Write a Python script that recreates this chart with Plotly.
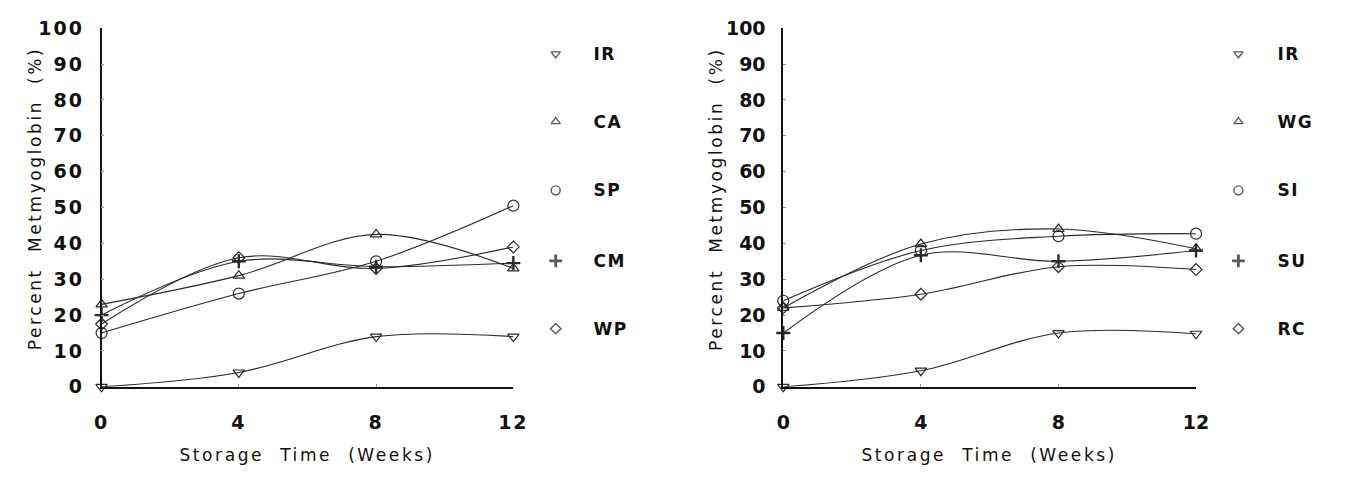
import plotly.graph_objects as go

# Storage time (weeks)
weeks = [0, 4, 8, 12]

# Left panel: percent metmyoglobin by treatment
left_names = ["IR", "CA", "SP", "CM", "WP"]
left_IR = [0, 4, 14, 14]
left_CA = [23, 31, 42.5, 33]
left_SP = [15, 26, 35, 50.5]
left_CM = [20, 35, 33.5, 34.5]
left_WP = [17.5, 36, 33, 39]

# Right panel: percent metmyoglobin by treatment
right_names = ["IR", "WG", "SI", "SU", "RC"]
right_IR = [0, 4.5, 15, 14.8]
right_WG = [22, 39.8, 44, 38.5]
right_SI = [24, 38, 42, 42.7]
right_SU = [15, 36.7, 35, 38]
right_RC = [22, 25.8, 33.5, 32.7]

y_ticks = [0, 10, 20, 30, 40, 50, 60, 70, 80, 90, 100]
x_ticks = [0, 4, 8, 12]

W, H = 1345, 477
symbols = ["triangle-down-open", "triangle-up-open", "circle-open", "cross-thin-open", "diamond-open"]
msizes = [10, 10, 11, 10, 9]
mwidths = [1.2, 1.2, 1.2, 2.4, 1.2]
LINE = "#2a2a2a"
TICK_FONT = dict(family="DejaVu Sans", size=19, color="#111", weight="bold")
TITLE_FONT = dict(family="DejaVu Sans", size=17, color="#111")
LEG_FONT = dict(family="DejaVu Sans", size=17, color="#111", weight="bold")

fig = go.Figure()

panels = [
    ("x", "y", left_names, [left_IR, left_CA, left_SP, left_CM, left_WP]),
    ("x2", "y2", right_names, [right_IR, right_WG, right_SI, right_SU, right_RC]),
]
for xa, ya, names, series in panels:
    for name, vals, sym, ms, mw in zip(names, series, symbols, msizes, mwidths):
        fig.add_trace(go.Scatter(
            x=weeks, y=vals, name=name, xaxis=xa, yaxis=ya,
            mode="lines+markers", cliponaxis=False, showlegend=False,
            line=dict(color=LINE, width=1.1, shape="spline", smoothing=1.0),
            marker=dict(symbol=sym, size=ms, color=LINE, line=dict(color=LINE, width=mw)),
        ))

# Key for each panel: symbol column and label column (page pixel coordinates)
key_rows = [45, 116, 188, 262, 333]
key_cols = [(557, 595), (1250, 1289)]
for (mx, tx), names in zip(key_cols, [left_names, right_names]):
    fig.add_trace(go.Scatter(
        x=[mx] * len(names), y=key_rows, xaxis="x3", yaxis="y3",
        mode="markers", showlegend=False, hoverinfo="skip", cliponaxis=False,
        marker=dict(symbol=symbols, size=[8, 8, 9, 9, 8], color="#111",
                    line=dict(color="#111", width=[1.4, 1.4, 1.4, 2.8, 1.4])),
    ))
    for name, ry in zip(names, key_rows):
        fig.add_annotation(xref="paper", yref="paper", x=tx / W, y=1 - ry / H,
                           text=name, showarrow=False, xanchor="left", yanchor="middle",
                           font=LEG_FONT)

y_dom = [1 - 394 / H, 1 - 18 / H]
common_x = dict(range=[0, 12], tickvals=x_ticks, showline=True, linecolor="#111",
                linewidth=1.5, ticks="inside", ticklen=3, tickcolor="#999",
                showgrid=False, zeroline=False, tickfont=TICK_FONT, ticklabelstandoff=18)
common_y = dict(range=[0, 100], tickvals=y_ticks, showline=True, linecolor="#111",
                linewidth=1.8, ticks="inside", ticklen=3, tickcolor="#999",
                showgrid=False, zeroline=False, tickfont=TICK_FONT, ticklabelstandoff=12)

fig.update_layout(
    width=W, height=H, margin=dict(l=0, r=0, t=0, b=0),
    paper_bgcolor="white", plot_bgcolor="rgba(0,0,0,0)", showlegend=False,
    xaxis=dict(domain=[96 / W, 514 / W], anchor="y", **common_x),
    yaxis=dict(domain=y_dom, anchor="x", **common_y),
    xaxis2=dict(domain=[788 / W, 1207 / W], anchor="y2", **common_x),
    yaxis2=dict(domain=y_dom, anchor="x2", **common_y),
    xaxis3=dict(domain=[0, 1], range=[0, W], visible=False, anchor="y3", fixedrange=True),
    yaxis3=dict(domain=[0, 1], range=[H, 0], visible=False, anchor="x3", fixedrange=True),
)

# Axis titles
for cx, ycx in [(305, 28), (997, 720)]:
    fig.add_annotation(xref="paper", yref="paper", x=cx / W, y=1 - 465 / H,
                       text="Storage  Time  (Weeks)", showarrow=False,
                       xanchor="center", yanchor="middle", font=TITLE_FONT)
    fig.add_annotation(xref="paper", yref="paper", x=ycx / W, y=1 - 197 / H,
                       text="Percent  Metmyoglobin  (%)", showarrow=False, textangle=-90,
                       xanchor="center", yanchor="middle", font=TITLE_FONT)

# Widen the letter spacing of the typeset labels once the figure is drawn
spacing_js = """
var gd = document.getElementById('{plot_id}');
gd.querySelectorAll('.annotation-text').forEach(function (t) {
  t.style.letterSpacing = t.textContent.length > 4 ? '2.6px' : '1.5px';
});
gd.querySelectorAll('.xtick text, .ytick text').forEach(function (t) {
  t.style.letterSpacing = '2px';
});
"""

fig.write_html("out.html", post_script=spacing_js)
